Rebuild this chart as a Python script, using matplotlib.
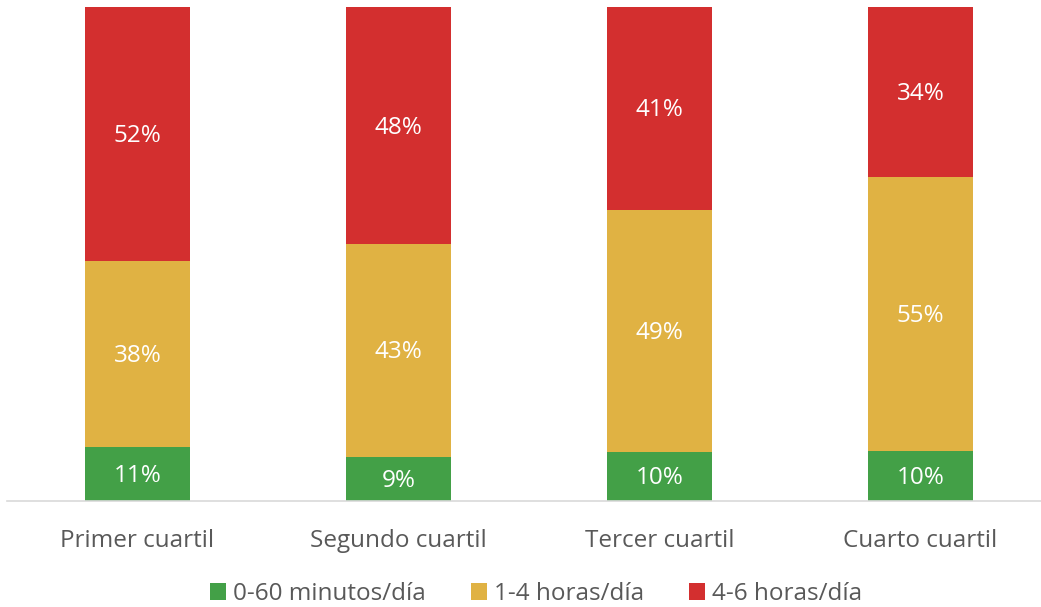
import matplotlib
matplotlib.use("Agg")
import matplotlib.pyplot as plt
import numpy as np

categories = ["Primer cuartil", "Segundo cuartil", "Tercer cuartil", "Cuarto cuartil"]
series_names = ["0-60 minutos/día", "1-4 horas/día", "4-6 horas/día"]
verde = [11, 9, 10, 10]
amarillo = [38, 43, 49, 55]
rojo = [52, 48, 41, 34]
colors = ["#43A047", "#E0B243", "#D32F2F"]

plt.rcParams['font.family'] = ['Open Sans', 'DejaVu Sans']

fig = plt.figure(figsize=(10.41, 6.07), dpi=100)
W, H = 1041, 607
ax = fig.add_axes([7 / W, 1 - 501 / H, 1034 / W, 494 / H])

data = np.array([verde, amarillo, rojo], dtype=float)
totals = data.sum(axis=0)
frac = data / totals
x = np.arange(len(categories))
bottom = np.zeros(len(categories))
for i, name in enumerate(series_names):
    bars = ax.bar(x, frac[i], 0.40, bottom=bottom, color=colors[i], label=name, linewidth=0)
    for j, b in enumerate(bars):
        ax.text(b.get_x() + b.get_width() / 2, bottom[j] + frac[i][j] / 2 - 0.004,
                f"{int(data[i][j])}%", ha="center", va="center", color="white", fontsize=17.5)
    bottom += frac[i]

ax.set_xlim(-0.5, -0.5 + 1034 / 261)
ax.set_ylim(0, 1)
ax.set_yticks([])
for s in ["top", "right", "left"]:
    ax.spines[s].set_visible(False)
ax.spines["bottom"].set_color("#D9D9D9")
ax.spines["bottom"].set_linewidth(1.2)
ax.set_xticks(x)
ax.set_xticklabels(categories, fontsize=17.5, color="#595959")
ax.tick_params(axis="x", length=0, pad=20)

fig.legend(loc="center", bbox_to_anchor=(536 / W, 1 - 594 / H), ncol=3, frameon=False,
           fontsize=17.5, handlelength=0.66, handleheight=0.66, handletextpad=0.3,
           columnspacing=1.85, labelcolor="#595959")

fig.savefig("out.png", dpi=100)
